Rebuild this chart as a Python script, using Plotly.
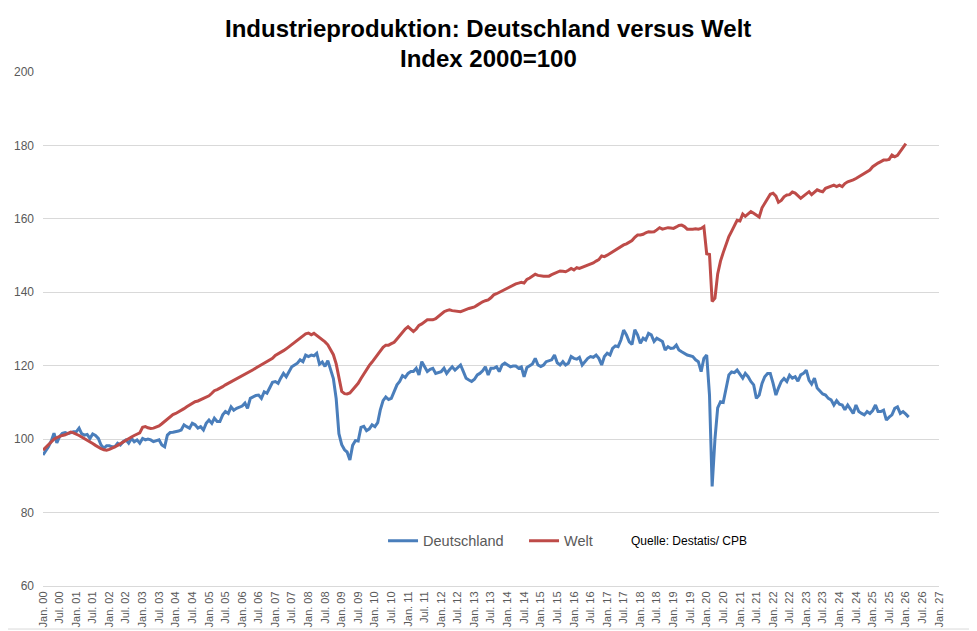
import pandas as pd
import plotly.graph_objects as go

# Industrieproduktion, Index 2000=100, monatlich ab Jan. 2000
deutschland = [
    95.7, 96.8, 97.9, 99.5, 101.6, 99.0, 100.7, 101.6, 101.8, 101.5, 101.8, 102.0,   # 2000
    102.0, 103.0, 101.5, 101.1, 101.3, 100.2, 101.4, 101.0, 100.2, 98.4, 97.5, 98.2,  # 2001
    98.2, 97.9, 97.9, 98.9, 98.4, 99.3, 99.8, 98.9, 100.2, 99.3, 99.8, 98.9,          # 2002
    100.2, 99.8, 100.0, 99.8, 99.3, 99.6, 99.8, 98.4, 97.9, 101.1, 101.8, 101.9,      # 2003
    102.0, 102.2, 102.5, 103.9, 103.4, 103.0, 104.3, 103.9, 103.0, 103.4, 102.5, 104.3,  # 2004
    105.2, 104.3, 105.7, 104.8, 104.8, 106.6, 107.5, 107.0, 108.8, 107.9, 108.4, 108.8,  # 2005
    109.0, 109.8, 108.4, 111.1, 111.6, 111.9, 112.0, 111.1, 112.9, 112.5, 114.0, 115.5,  # 2006
    115.7, 115.2, 116.6, 117.9, 117.0, 118.5, 119.7, 120.2, 120.7, 121.6, 121.1, 122.9,  # 2007
    122.5, 122.9, 122.7, 123.4, 120.4, 121.0, 119.8, 121.4, 119.0, 116.5, 111.0, 101.5,  # 2008
    98.5, 97.1, 96.5, 94.3, 98.3, 99.6, 99.5, 103.2, 103.5, 102.3, 102.8, 103.9,      # 2009
    103.4, 104.5, 107.9, 110.5, 111.5, 110.8, 111.1, 112.9, 114.8, 115.7, 117.3, 116.8,  # 2010
    117.9, 118.4, 118.4, 119.3, 117.5, 121.1, 119.7, 118.4, 119.0, 119.3, 117.9, 118.2,  # 2011
    118.4, 119.3, 117.9, 118.9, 119.7, 118.8, 119.5, 120.2, 118.4, 116.6, 116.1, 115.7,  # 2012
    116.3, 117.5, 117.9, 118.6, 119.7, 117.5, 119.3, 119.3, 119.7, 118.4, 120.2, 120.7,  # 2013
    120.2, 119.7, 119.9, 119.9, 119.3, 119.7, 117.0, 119.5, 120.0, 120.5, 122.0, 120.2,  # 2014
    119.8, 120.2, 121.1, 121.4, 121.6, 122.9, 120.8, 120.2, 121.1, 120.2, 120.7, 122.5,  # 2015
    122.0, 121.8, 122.3, 120.2, 121.1, 122.0, 122.5, 122.3, 122.9, 122.0, 120.2, 122.5,  # 2016
    123.4, 122.9, 124.7, 125.4, 125.2, 127.0, 129.7, 128.4, 126.5, 125.8, 129.8, 128.4,  # 2017
    126.1, 127.5, 127.0, 128.8, 128.4, 126.6, 127.5, 127.0, 126.6, 124.3, 125.2, 124.7,  # 2018
    124.8, 125.6, 124.3, 123.8, 123.3, 122.9, 122.7, 122.5, 121.6, 121.1, 118.4, 122.0,  # 2019
    122.9, 112.0, 87.1, 100.0, 108.5, 110.2, 110.0, 113.4, 117.5, 118.3, 118.1, 118.8,   # 2020
    117.5, 116.6, 117.9, 117.0, 115.7, 114.8, 111.1, 112.0, 115.2, 117.0, 117.9, 117.9,  # 2021
    115.2, 112.0, 113.9, 115.7, 116.5, 115.7, 117.4, 116.6, 117.0, 115.8, 117.5, 117.9,  # 2022
    118.8, 116.0, 115.0, 116.6, 113.9, 113.0, 112.3, 112.0, 111.1, 110.7, 109.3, 110.5,  # 2023
    109.5, 109.3, 108.0, 109.3, 108.0, 107.0, 109.3, 107.5, 107.0, 106.6, 107.5, 107.0,  # 2024
    107.8, 109.3, 107.5, 107.5, 107.9, 105.2, 106.0, 106.6, 108.4, 108.8, 107.0, 107.5,  # 2025
    106.8, 106.0,                                                                     # 2026
]

welt = [
    97.0, 97.8, 98.6, 99.4, 100.0, 100.4, 100.8, 101.0, 101.2, 101.5, 101.9, 101.7,   # 2000
    101.4, 101.0, 100.6, 100.2, 99.8, 99.3, 98.8, 98.3, 97.8, 97.4, 97.1, 97.0,       # 2001
    97.2, 97.5, 97.9, 98.3, 98.8, 99.3, 99.8, 100.2, 100.6, 101.0, 101.3, 101.7,      # 2002
    103.2, 103.4, 103.1, 102.9, 103.0, 103.3, 103.6, 104.2, 104.8, 105.5, 106.2, 106.7,  # 2003
    107.0, 107.4, 107.8, 108.3, 108.8, 109.3, 109.8, 110.2, 110.4, 110.7, 111.0, 111.3,  # 2004
    111.8, 112.5, 113.2, 113.5, 113.8, 114.3, 114.8, 115.2, 115.6, 116.0, 116.4, 116.8,  # 2005
    117.2, 117.6, 118.0, 118.4, 118.9, 119.4, 119.8, 120.2, 120.6, 121.0, 121.5, 122.0,  # 2006
    122.8, 123.2, 123.6, 124.1, 124.6, 125.2, 125.7, 126.3, 126.9, 127.5, 128.2, 128.7,  # 2007
    128.9, 128.4, 128.8, 128.2, 127.8, 127.2, 126.5, 125.7, 124.5, 123.0, 120.5, 117.0,  # 2008
    113.0, 112.4, 112.3, 112.6, 113.4, 114.3, 115.2, 116.5, 117.8, 119.0, 120.1, 121.0,  # 2009
    122.0, 123.0, 124.0, 125.0, 125.6, 125.6, 126.0, 126.4, 127.3, 128.3, 129.3, 130.0,  # 2010
    130.6, 130.0, 129.3, 130.0, 131.0, 131.4, 132.0, 132.5, 132.5, 132.5, 132.8, 133.5,  # 2011
    134.2, 134.7, 135.0, 135.2, 135.0, 134.9, 134.7, 134.7, 135.0, 135.4, 135.6, 135.8,  # 2012
    136.0, 136.5, 137.0, 137.4, 137.7, 137.9, 138.5, 139.3, 139.6, 140.0, 140.3, 140.6,  # 2013
    141.0, 141.6, 141.9, 142.3, 142.5, 142.7, 142.5, 143.5, 143.9, 144.4, 144.9, 144.6,  # 2014
    144.4, 144.4, 144.4, 144.4, 144.8, 145.2, 145.5, 145.8, 145.7, 145.6, 146.0, 146.5,  # 2015
    146.1, 146.7, 146.5, 146.8, 147.0, 147.3, 147.7, 148.0, 148.5, 148.9, 149.9, 149.7,  # 2016
    150.1, 150.6, 151.0, 151.5, 152.0, 152.4, 152.9, 153.2, 153.6, 154.1, 155.0, 155.6,  # 2017
    155.6, 155.8, 156.2, 156.5, 156.4, 156.5, 157.0, 157.6, 157.2, 157.5, 157.6, 157.5,  # 2018
    157.4, 157.8, 158.2, 158.3, 157.9, 157.2, 157.1, 157.2, 157.3, 157.2, 157.4, 157.9,  # 2019
    150.5, 150.3, 137.5, 138.4, 145.0, 148.5, 150.8, 153.2, 155.2, 156.6, 158.0, 159.6,  # 2020
    159.4, 161.3, 160.7, 161.4, 162.0, 161.5, 161.0, 160.5, 163.0, 164.3, 165.6, 166.7,  # 2021
    167.0, 166.2, 164.5, 165.0, 166.0, 166.5, 166.6, 167.3, 167.0, 166.4, 165.6, 166.2,  # 2022
    166.8, 167.4, 166.6, 167.2, 167.9, 167.6, 167.4, 168.3, 168.6, 169.0, 169.2, 168.8,  # 2023
    169.2, 168.8, 169.6, 170.1, 170.3, 170.6, 171.0, 171.5, 172.0, 172.4, 172.8, 173.3,  # 2024
    174.2, 174.8, 175.2, 175.6, 176.0, 176.0, 176.2, 177.4, 176.9, 177.3, 178.3, 179.3,  # 2025
    180.5,                                                                            # 2026
]

de_dates = pd.date_range("2000-01-01", periods=len(deutschland), freq="MS")
welt_dates = pd.date_range("2000-01-01", periods=len(welt), freq="MS")

# Achsenbeschriftung: Jan./Jul. jedes Jahres
tick_dates = pd.date_range("2000-01-01", "2027-01-01", freq="6MS")
tick_text = [("Jan. " if d.month == 1 else "Jul. ") + d.strftime("%y") for d in tick_dates]

font_family = "Liberation Sans, Arial, sans-serif"

fig = go.Figure()
fig.add_trace(go.Scatter(x=de_dates, y=deutschland, mode="lines", name="Deutschland",
                         line=dict(color="#4a7ebb", width=3)))
fig.add_trace(go.Scatter(x=welt_dates, y=welt, mode="lines", name="Welt",
                         line=dict(color="#be4b48", width=3)))

# die Seite hat 8px Rand, daher Ränder etwas kleiner
fig.update_layout(
    width=977, height=631,
    margin=dict(l=35, r=46, t=64, b=53),
    paper_bgcolor="white", plot_bgcolor="white",
    font=dict(family=font_family, color="#595959"),
    legend=dict(orientation="h", x=0.3795, y=0.088, xanchor="left", yanchor="middle",
                entrywidth=96, entrywidthmode="pixels",
                font=dict(size=14.5, color="#595959"), bgcolor="rgba(0,0,0,0)"),
    showlegend=True,
)

fig.update_xaxes(
    type="date", range=["2000-01-01", "2027-01-01"],
    tickvals=tick_dates, ticktext=tick_text, tickangle=-90,
    tickfont=dict(size=11, color="#595959"),
    showgrid=False, showline=True, linecolor="#d9d9d9", linewidth=1, ticks="",
    zeroline=False, automargin=False,
)
fig.update_yaxes(
    range=[60, 200], dtick=20, tickfont=dict(size=12, color="#595959"),
    showgrid=True, gridcolor="#d9d9d9", gridwidth=1, zeroline=False,
    ticklabelstandoff=8, automargin=False,
)

# Titel in zwei Zeilen
fig.add_annotation(text="<b>Industrieproduktion: Deutschland versus Welt</b>",
                   x=0.4967, y=1.0856, xref="paper", yref="paper", showarrow=False,
                   xanchor="center", yanchor="middle",
                   font=dict(size=24, color="black", family=font_family))
fig.add_annotation(text="<b>Index 2000=100</b>",
                   x=0.4967, y=1.0272, xref="paper", yref="paper", showarrow=False,
                   xanchor="center", yanchor="middle",
                   font=dict(size=24, color="black", family=font_family))

fig.add_annotation(text="Quelle: Destatis/ CPB", x=0.7205, y=0.088, xref="paper", yref="paper",
                   showarrow=False, xanchor="center", yanchor="middle",
                   font=dict(size=12, color="black"))

# Rahmen (rechts und unten sichtbar)
fig.add_shape(type="line", xref="paper", yref="paper", x0=1.0402, x1=1.0402, y0=-0.0837, y1=1.13,
              line=dict(color="#d9d9d9", width=1))
fig.add_shape(type="line", xref="paper", yref="paper", x0=-0.04, x1=1.0402, y0=-0.0837, y1=-0.0837,
              line=dict(color="#d9d9d9", width=1))

fig.write_html("out.html")
